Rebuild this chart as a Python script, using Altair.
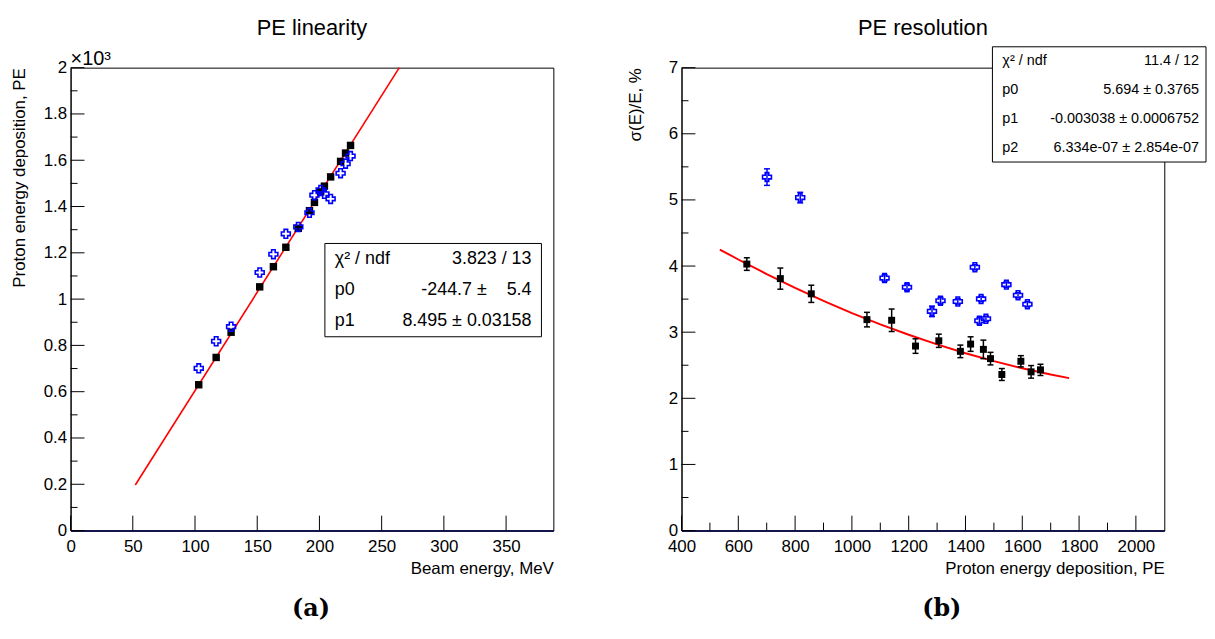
"""PE linearity and PE resolution panels."""

import altair as alt
import pandas as pd

FONT = "Liberation Sans"
W, H = 486, 466

# Left panel: beam energy (MeV) vs. proton energy deposition (PE)
beam_energy = [103, 117, 129, 152, 163, 173, 183, 192, 196, 201, 204, 209, 217, 221, 225]
pe_black = [630, 748, 857, 1053, 1140, 1224, 1306, 1382, 1418, 1463, 1488, 1528, 1595, 1631, 1664]
pe_blue = [701, 818, 881, 1115, 1194, 1282, 1312, 1373, 1449, 1472, 1455, 1433, 1544, 1585, 1618]
lin_fit_x = [52, 264.2]
lin_fit_y = [197, 2000]

# Right panel: sigma(E)/E (%) vs. deposited PE
res_black = [4.03, 3.81, 3.58, 3.19, 3.18, 2.79, 2.87, 2.71, 2.82, 2.74, 2.60, 2.36, 2.56, 2.40, 2.43]
res_black_err = [0.095, 0.16, 0.13, 0.11, 0.17, 0.11, 0.10, 0.095, 0.11, 0.14, 0.095, 0.09, 0.085, 0.095, 0.085]
pe_blue_res = [701, 818, 1115, 1194, 1282, 1312, 1373, 1433, 1449, 1455, 1472, 1544, 1585, 1618]
res_blue = [5.345, 5.035, 3.818, 3.679, 3.315, 3.476, 3.464, 3.982, 3.173, 3.503, 3.203, 3.719, 3.559, 3.423]
res_blue_err = [0.125, 0.08, 0.05, 0.05, 0.08, 0.05, 0.04, 0.04, 0.05, 0.04, 0.04, 0.04, 0.04, 0.04]
res_fit_x = [535, 600, 700, 800, 900, 1000, 1100, 1200, 1300, 1400, 1500, 1600, 1700, 1765]
res_fit_y = [4.250, 4.099, 3.878, 3.669, 3.473, 3.289, 3.119, 2.961, 2.815, 2.682, 2.562, 2.455, 2.360, 2.305]

# Tick values
lin_x_major = [0, 50, 100, 150, 200, 250, 300, 350]
lin_y_major = [0, 200, 400, 600, 800, 1000, 1200, 1400, 1600, 1800, 2000]
lin_y_minor = [100, 300, 500, 700, 900, 1100, 1300, 1500, 1700, 1900]
res_x_major = [400, 600, 800, 1000, 1200, 1400, 1600, 1800, 2000]
res_x_minor = [500, 700, 900, 1100, 1300, 1500, 1700, 1900]
res_y_major = [0, 1, 2, 3, 4, 5, 6, 7]
res_y_minor = [0.5, 1.5, 2.5, 3.5, 4.5, 5.5, 6.5]

NB = "\u00a0"
lin_stats = [("χ² / ndf", "3.823 / 13"), ("p0", f"-244.7 ±{NB * 4}5.4"), ("p1", "8.495 ± 0.03158")]
res_stats = [
    ("χ² / ndf", "11.4 / 12"),
    ("p0", "5.694 ± 0.3765"),
    ("p1", "-0.003038 ± 0.0006752"),
    ("p2", "6.334e-07 ± 2.854e-07"),
]


def one_row():
    return alt.Chart(alt.Data(values=[{}]))


def encodings(x_domain, y_domain, x_title, y_title, x_values, y_values, y_title_x, y_label_expr=None):
    """Shared x/y encodings so every layer merges into the same axes."""
    y_axis = dict(
        values=y_values, title=y_title, labelPadding=4, labelOverlap=False,
        titleX=y_title_x, titleY=0, titleAnchor="end", titleAlign="right",
        titleBaseline="middle", titleAngle=270,
    )
    if y_label_expr:
        y_axis["labelExpr"] = y_label_expr
    x = alt.X(
        "x:Q",
        scale=alt.Scale(domain=x_domain, nice=False, zero=False),
        axis=alt.Axis(
            values=x_values, title=x_title, format="d", labelPadding=8, labelFlush=False,
            labelOverlap=False, titleX=W, titleY=38, titleAnchor="end", titleAlign="right",
            titleBaseline="middle", domainColor="#15154d", domainWidth=2,
        ),
    )
    y = alt.Y("y:Q", scale=alt.Scale(domain=y_domain, nice=False, zero=False), axis=alt.Axis(**y_axis))
    return x, y


def tick_layers(x, y, x_major, x_minor, y_major, y_minor):
    """ROOT style ticks, drawn inside the frame."""
    layers = []
    for vals, length in ((y_major, 14), (y_minor, 7)):
        layers.append(
            alt.Chart(pd.DataFrame({"y": vals}))
            .mark_rule(color="black", strokeWidth=1)
            .encode(y=y, x=alt.value(0), x2=alt.value(length))
        )
    for vals, length in ((x_major, 15), (x_minor, 8)):
        if vals:
            layers.append(
                alt.Chart(pd.DataFrame({"x": vals}))
                .mark_rule(color="black", strokeWidth=1)
                .encode(x=x, y=alt.value(H), y2=alt.value(H - length))
            )
    return layers


def error_layers(x, y, xs, ys, errs, color):
    lo = [v - e for v, e in zip(ys, errs)]
    hi = [v + e for v, e in zip(ys, errs)]
    bars = (
        alt.Chart(pd.DataFrame({"x": xs, "y": lo, "hi": hi}))
        .mark_rule(color=color, strokeWidth=1.5)
        .encode(x=x, y=y, y2=alt.Y2("hi:Q"))
    )
    caps = (
        alt.Chart(pd.DataFrame({"x": xs + xs, "y": lo + hi}))
        .mark_tick(color=color, orient="horizontal", size=6, thickness=1.5, opacity=1)
        .encode(x=x, y=y)
    )
    return [bars, caps]


def stats_box(rows, left, right, top, row_h, font_size, right_pad):
    box = one_row().mark_rect(fill="white", stroke="black", strokeWidth=1).encode(
        x=alt.value(left), x2=alt.value(right),
        y=alt.value(top), y2=alt.value(top + row_h * len(rows)),
    )
    layers = [box]
    for i, (label, value) in enumerate(rows):
        row_y = top + row_h * (i + 0.5)
        layers.append(
            one_row().mark_text(text=label, align="left", baseline="middle", font=FONT, fontSize=font_size)
            .encode(x=alt.value(left + 10), y=alt.value(row_y))
        )
        layers.append(
            one_row().mark_text(text=value, align="right", baseline="middle", font=FONT, fontSize=font_size)
            .encode(x=alt.value(right - right_pad), y=alt.value(row_y))
        )
    return layers


def panel_text(text, x, y, **style):
    return one_row().mark_text(text=text, baseline="middle", **style).encode(x=alt.value(x), y=alt.value(y))


# ---- left panel -------------------------------------------------------
lx, ly = encodings(
    [0, 388], [0, 2000], "Beam energy, MeV", "Proton energy deposition, PE",
    lin_x_major, lin_y_major, -51, "format(datum.value / 1000, '.1~f')",
)
lin_fit = alt.Chart(pd.DataFrame({"x": lin_fit_x, "y": lin_fit_y})).mark_line(color="red", strokeWidth=1.6).encode(x=lx, y=ly)
lin_black = (
    alt.Chart(pd.DataFrame({"x": beam_energy, "y": pe_black}))
    .mark_square(color="black", size=56, opacity=1)
    .encode(x=lx, y=ly)
)
lin_blue = (
    alt.Chart(pd.DataFrame({"x": beam_energy, "y": pe_blue}))
    .mark_point(shape="cross", filled=False, color="blue", size=80, strokeWidth=1.6, opacity=1)
    .encode(x=lx, y=ly)
)
left = alt.layer(
    *tick_layers(lx, ly, lin_x_major, [], lin_y_major, lin_y_minor),
    lin_fit, lin_black, lin_blue,
    *stats_box(lin_stats, 256, 474, 177, 31.3, 18, 10),
    panel_text("PE linearity", W / 2, -40, font=FONT, fontSize=22),
    panel_text("×10³", 0, -9, font=FONT, fontSize=20, align="left"),
    panel_text("(a)", 242, 545, font="DejaVu Serif", fontSize=24, fontWeight="bold"),
).properties(width=W, height=H)

# ---- right panel ------------------------------------------------------
rx, ry = encodings(
    [400, 2100], [0, 7], "Proton energy deposition, PE", "σ(E)/E, %",
    res_x_major, res_y_major, -46,
)
res_fit = alt.Chart(pd.DataFrame({"x": res_fit_x, "y": res_fit_y})).mark_line(color="red", strokeWidth=2).encode(x=rx, y=ry)
res_black_pts = (
    alt.Chart(pd.DataFrame({"x": pe_black, "y": res_black}))
    .mark_square(color="black", size=49, opacity=1)
    .encode(x=rx, y=ry)
)
res_blue_pts = (
    alt.Chart(pd.DataFrame({"x": pe_blue_res, "y": res_blue}))
    .mark_point(shape="cross", filled=False, color="blue", size=80, strokeWidth=1.6, opacity=1)
    .encode(x=rx, y=ry)
)
right = alt.layer(
    *tick_layers(rx, ry, res_x_major, res_x_minor, res_y_major, res_y_minor),
    res_fit,
    *error_layers(rx, ry, pe_black, res_black, res_black_err, "black"),
    res_black_pts,
    *error_layers(rx, ry, pe_blue_res, res_blue, res_blue_err, "blue"),
    res_blue_pts,
    *stats_box(res_stats, 313, 528, -21, 29, 14.5, 7),
    panel_text("PE resolution", W / 2, -40, font=FONT, fontSize=22),
    panel_text("(b)", 262, 545, font="DejaVu Serif", fontSize=24, fontWeight="bold"),
).properties(width=W, height=H)

chart = (
    alt.hconcat(left, right, spacing=129, bounds="flush")
    .properties(padding={"left": 2, "top": 6, "right": 0, "bottom": 0})
    .configure_view(stroke="black", strokeWidth=1)
    .configure_axis(
        grid=False, ticks=False,
        labelFont=FONT, titleFont=FONT, labelFontSize=17, titleFontSize=17,
        titleFontWeight="normal", labelColor="black", titleColor="black", domainColor="black",
    )
)

chart.save("out.html", embed_options={"renderer": "svg", "actions": False})
